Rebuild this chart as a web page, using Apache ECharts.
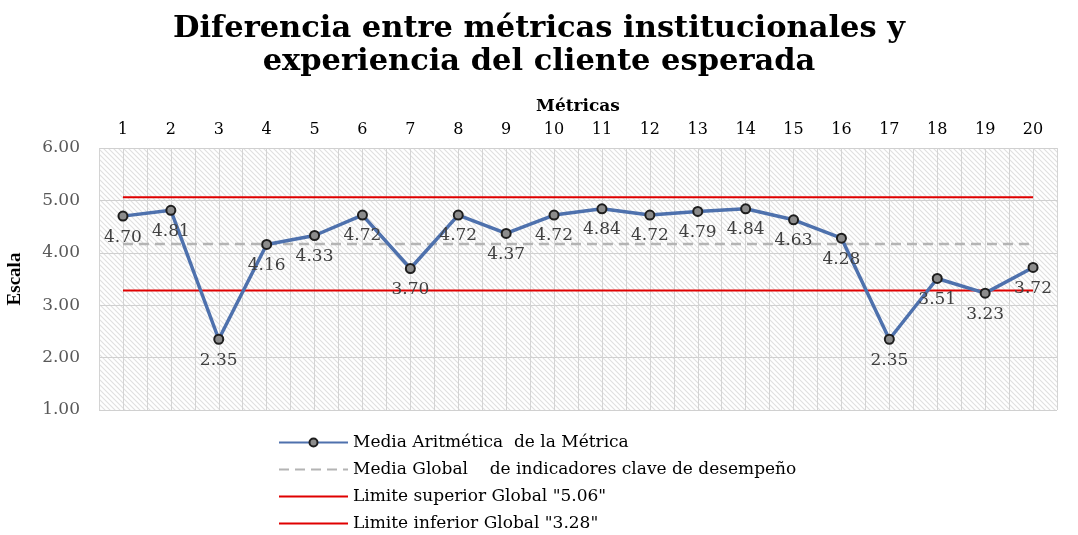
<!DOCTYPE html>
<html>
<head>
<meta charset="utf-8">
<script src="https://cdn.jsdelivr.net/npm/echarts@6/dist/echarts.min.js"></script>
<style>
  html, body { margin: 0; padding: 0; background: #fff; }
  #chart { width: 1078px; height: 535px; }
</style>
</head>
<body>
<div id="chart"></div>
<script>
const metricas = ["1","2","3","4","5","6","7","8","9","10","11","12","13","14","15","16","17","18","19","20"];
const mediaMetrica = [4.70,4.81,2.35,4.16,4.33,4.72,3.70,4.72,4.37,4.72,4.84,4.72,4.79,4.84,4.63,4.28,2.35,3.51,3.23,3.72];
const mediaGlobal = [4.17,4.17,4.17,4.17,4.17,4.17,4.17,4.17,4.17,4.17,4.17,4.17,4.17,4.17,4.17,4.17,4.17,4.17,4.17,4.17];
const limiteSup = [5.06,5.06,5.06,5.06,5.06,5.06,5.06,5.06,5.06,5.06,5.06,5.06,5.06,5.06,5.06,5.06,5.06,5.06,5.06,5.06];
const limiteInf = [3.28,3.28,3.28,3.28,3.28,3.28,3.28,3.28,3.28,3.28,3.28,3.28,3.28,3.28,3.28,3.28,3.28,3.28,3.28,3.28];
const nombres = [
  "Media Aritmética  de la Métrica",
  "Media Global    de indicadores clave de desempeño",
  "Limite superior Global \"5.06\"",
  "Limite inferior Global \"3.28\""
];

const serif = "'DejaVu Serif', 'Liberation Serif', serif";
const times = "'Liberation Serif', serif";

// hatch pattern for the plot background
const pat = document.createElement("canvas");
pat.width = 5; pat.height = 5;
const g = pat.getContext("2d");
g.fillStyle = "#ffffff"; g.fillRect(0, 0, 5, 5);
g.strokeStyle = "#e0e0e0"; g.lineWidth = 1.1;
g.beginPath();
g.moveTo(0, 0); g.lineTo(5, 5);
g.moveTo(-2.5, 2.5); g.lineTo(2.5, 7.5);
g.moveTo(2.5, -2.5); g.lineTo(7.5, 2.5);
g.stroke();

const chart = echarts.init(document.getElementById("chart"));
chart.setOption({
  animation: false,
  title: {
    text: "Diferencia entre métricas institucionales y\nexperiencia del cliente esperada",
    left: "center", top: 8,
    textStyle: { fontFamily: serif, fontWeight: "bold", fontSize: 30.5, lineHeight: 33, color: "#000" }
  },
  legend: {
    orient: "vertical", left: 278, top: 434, itemGap: 10, padding: 0,
    itemWidth: 69, itemHeight: 10,
    textStyle: { fontFamily: serif, fontSize: 17, lineHeight: 16, color: "#000" },
    data: [
      { name: nombres[0] },
      { name: nombres[1], itemStyle: { opacity: 0 } },
      { name: nombres[2], itemStyle: { opacity: 0 } },
      { name: nombres[3], itemStyle: { opacity: 0 } }
    ]
  },
  grid: {
    left: 99, right: 21, top: 148, bottom: 125,
    outerBoundsMode: "none",
    show: true, borderWidth: 0,
    backgroundColor: { image: pat, repeat: "repeat" }
  },
  xAxis: [
    {
      type: "category", position: "top", data: metricas, boundaryGap: true,
      name: "Métricas", nameLocation: "middle", nameGap: 33,
      nameTextStyle: { fontFamily: serif, fontWeight: "bold", fontSize: 17, color: "#000" },
      axisLine: { show: false }, axisTick: { show: false },
      axisLabel: { fontFamily: serif, fontSize: 16, color: "#000", margin: 10 },
      splitLine: { show: false }
    },
    {
      type: "value", position: "bottom", min: 0.5, max: 20.5, interval: 0.5,
      axisLine: { show: false }, axisTick: { show: false }, axisLabel: { show: false },
      splitLine: { show: true, lineStyle: { color: "#d4d4d4", width: 1 } }
    }
  ],
  yAxis: {
    type: "value", min: 1, max: 6, interval: 1,
    name: "Escala", nameLocation: "middle", nameGap: 74, nameRotate: 90,
    nameTextStyle: { fontFamily: times, fontWeight: "bold", fontSize: 19, color: "#000" },
    axisLine: { show: false }, axisTick: { show: false },
    axisLabel: { fontFamily: serif, fontSize: 17, color: "#595959", margin: 19,
      formatter: v => v.toFixed(2) },
    splitLine: { lineStyle: { color: "#d0d0d0", width: 1 } }
  },
  series: [
    {
      name: nombres[2], type: "line", data: limiteSup, symbol: "none",
      lineStyle: { color: "#e00000", width: 2 }, itemStyle: { color: "#e00000" }, z: 2
    },
    {
      name: nombres[3], type: "line", data: limiteInf, symbol: "none",
      lineStyle: { color: "#e00000", width: 2 }, itemStyle: { color: "#e00000" }, z: 2
    },
    {
      name: nombres[1], type: "line", data: mediaGlobal, symbol: "none",
      lineStyle: { color: "#b4b4b4", width: 2.5, type: [10, 6] }, itemStyle: { color: "#b4b4b4" }, z: 2
    },
    {
      name: nombres[0], type: "line", data: mediaMetrica,
      symbol: "circle", symbolSize: 9,
      lineStyle: { color: "#4e71ad", width: 3.5 },
      itemStyle: { color: "#8c8c8c", borderColor: "#1e1e1e", borderWidth: 2 },
      label: { show: true, position: "bottom", distance: 7, fontFamily: serif, fontSize: 17, color: "#404040",
        formatter: p => p.value.toFixed(2) },
      z: 5
    }
  ]
});
</script>
</body>
</html>
